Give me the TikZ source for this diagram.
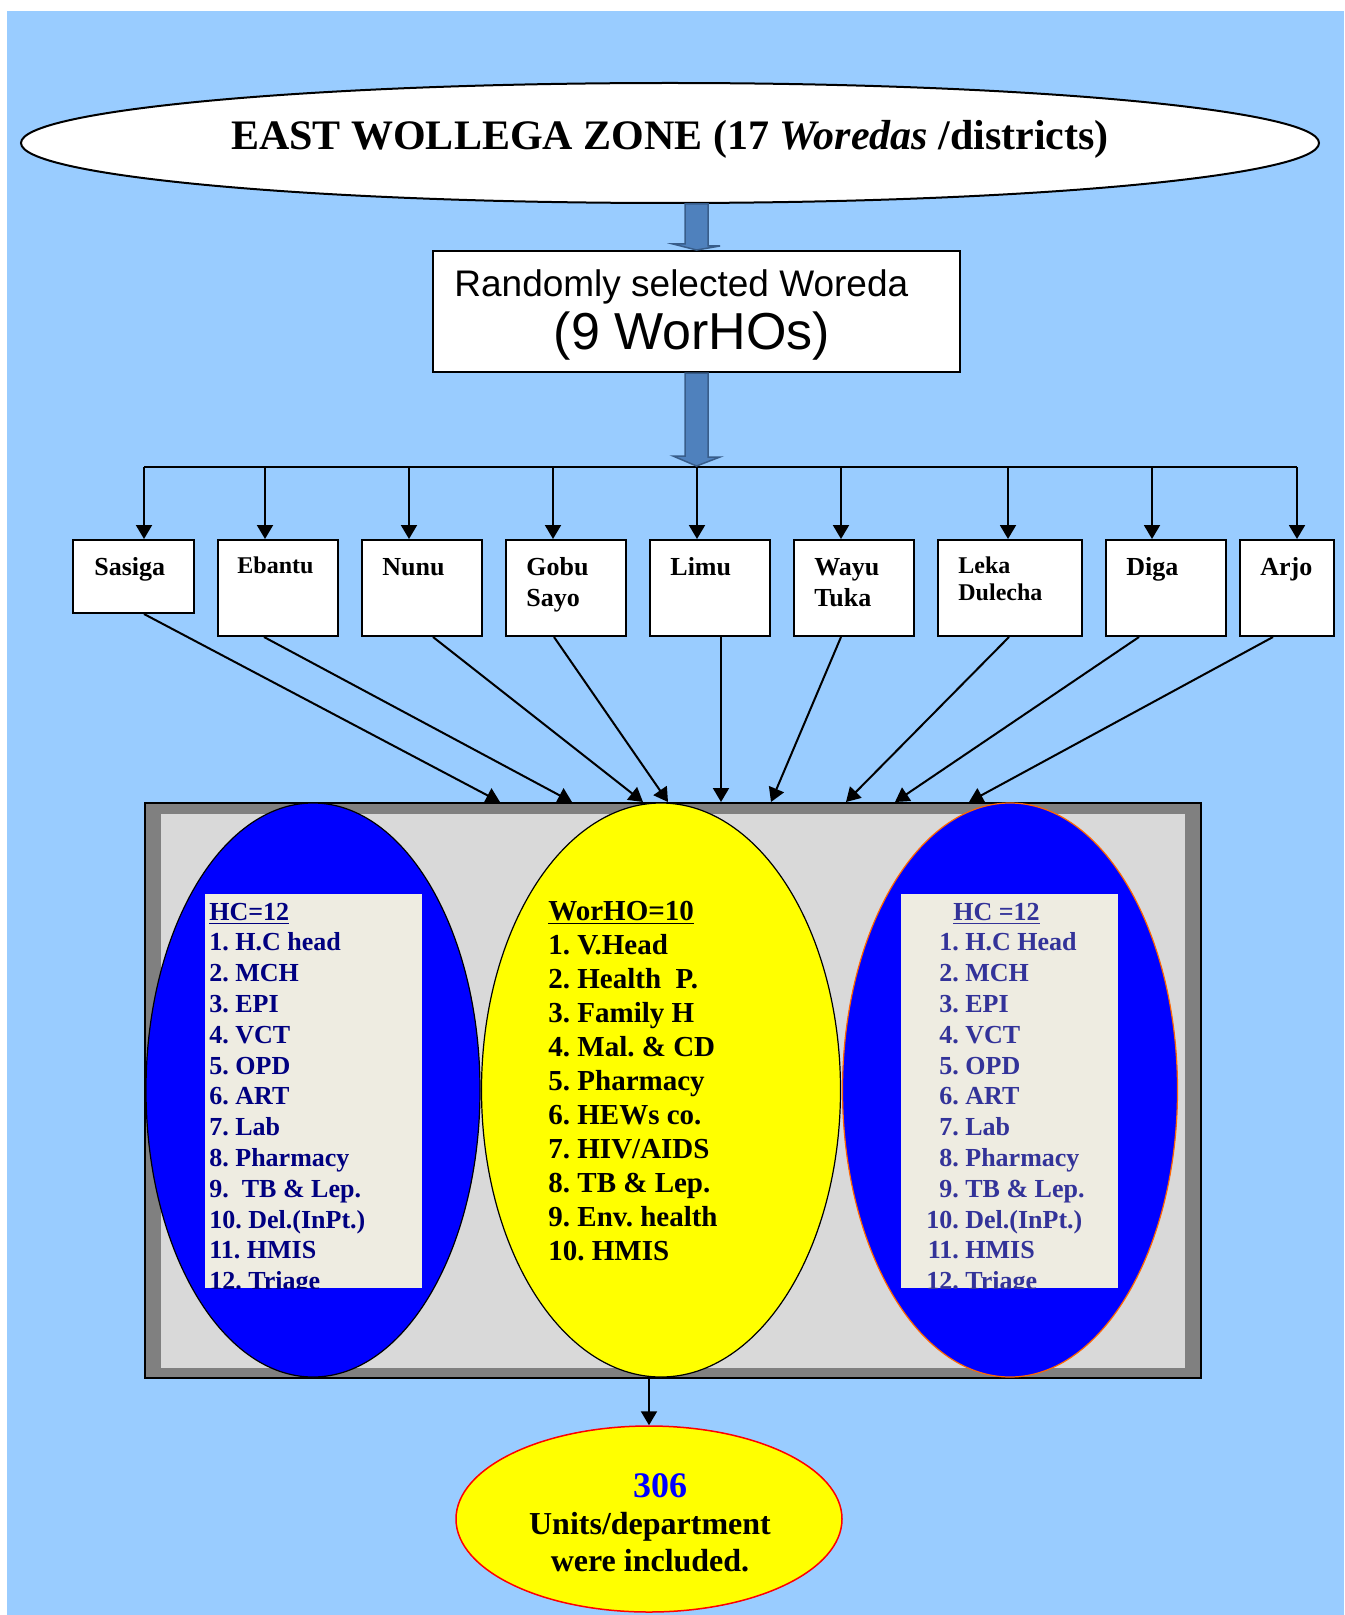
\documentclass[tikz,border=0pt]{standalone}
\usepackage{fontspec}
\setmainfont{Liberation Serif}
\newfontfamily\arialfont{Liberation Sans}
\usetikzlibrary{shapes.geometric,arrows.meta}
\frenchspacing

\definecolor{bgblue}{HTML}{99CCFF}
\definecolor{stemblue}{HTML}{4F81BD}
\definecolor{stemedge}{HTML}{385D8A}
\definecolor{framegray}{HTML}{808080}
\definecolor{innergray}{HTML}{D9D9D9}
\definecolor{panel}{HTML}{EEECE1}
\definecolor{hcnavy}{HTML}{000080}
\definecolor{hcslate}{HTML}{333399}
\definecolor{rimorange}{HTML}{FF6600}
\definecolor{unityellow}{RGB}{255,255,0}
\definecolor{unitblue}{RGB}{0,0,255}
\definecolor{rimred}{RGB}{255,0,0}

\tikzset{wbox/.style={draw,fill=white,line width=1pt,anchor=north west,minimum height=48pt,inner sep=0pt},
  wname/.style={anchor=base west,inner sep=0pt,font=\fontsize{13}{15.5}\selectfont\bfseries},
  arr/.style={line width=1pt,-{Triangle[length=7pt,width=8pt]}},
  stem/.style={fill=stemblue,draw=stemedge,line width=0.75pt},
  unit/.style={ellipse,draw,line width=0.6pt,minimum height=287pt,inner sep=0pt},
  list/.style={anchor=base west,inner sep=0pt,font=\fontsize{13}{15.4}\selectfont\bfseries}}

\begin{document}
\begin{tikzpicture}[x=0.5pt,y=-0.5pt]
        \useasboundingbox (0,0) rectangle (1344,1615);
        \fill[white] (0,0) rectangle (1344,1615);
        \fill[bgblue] (7,11) rectangle (1344,1615);

        % zone and sampled woredas
        \node[ellipse,draw,fill=white,line width=1pt,minimum width=649pt,minimum height=60pt,inner sep=0pt,text height=0.8em,text depth=0.1em,font=\fontsize{21}{25}\selectfont\bfseries] (zone) at (670,143) {EAST WOLLEGA ZONE (17 \textit{Woredas} /districts)};
        \node[draw,fill=white,line width=1pt,minimum width=263.5pt,minimum height=60.5pt,inner sep=0pt] (randbox) at (696.5,311.5) {};
        \node[anchor=base west,inner sep=0pt,font=\arialfont\fontsize{18.5}{22}\selectfont] (randtxt) at (454,297) {Randomly selected Woreda};
        \node[anchor=base,inner sep=0pt,font=\arialfont\fontsize{26}{30}\selectfont] (worhotxt) at (692,350) {(9 WorHOs)};
        \filldraw[stem] (randbox.north |- zone.south) ++(-11.5,0) -- ++(23,0) -- ++(0,42) -- ++(12,0) -- (randbox.north) -- ++(-23.5,-6) -- ++(12,0) -- cycle;

        % bus to the nine woredas
        \coordinate (hub) at (696.5,466);
        \coordinate (d1) at (144,467);
        \coordinate (d2) at (265,467);
        \coordinate (d3) at (409,467);
        \coordinate (d4) at (553,467);
        \coordinate (d5) at (697,467);
        \coordinate (d6) at (841,467);
        \coordinate (d7) at (1008,467);
        \coordinate (d8) at (1152,467);
        \coordinate (d9) at (1297,467);
        \draw[line width=1pt] (d1) -- (d9);
        \filldraw[stem] (randbox.south) ++(-11.5,0) -- ++(23,0) -- ++(0,84) -- ++(12,0) -- (hub) -- ++(-23.5,-10) -- ++(12,0) -- cycle;

        \node[wbox,minimum width=60.5pt,minimum height=36.5pt] (sasiga) at (72,539) {};
        \node[wbox,minimum width=60pt] (ebantu) at (217,539) {};
        \node[wbox,minimum width=60pt] (nunu) at (361,539) {};
        \node[wbox,minimum width=60pt] (gobu) at (505,539) {};
        \node[wbox,minimum width=60pt] (limu) at (649,539) {};
        \node[wbox,minimum width=60pt] (wayu) at (793,539) {};
        \node[wbox,minimum width=72pt] (leka) at (937,539) {};
        \node[wbox,minimum width=60pt] (diga) at (1105,539) {};
        \node[wbox,minimum width=47pt] (arjo) at (1239,539) {};

        \node[wname] (sasigat) at (94,575) {Sasiga};
        \node[wname,font=\fontsize{12}{14}\selectfont\bfseries] (ebantut) at (237,573) {Ebantu};
        \node[wname] (nunut) at (382,575) {Nunu};
        \node[wname] (gobut) at (526,575) {\begin{tabular}[t]{@{}l@{}}Gobu\\Sayo\end{tabular}};
        \node[wname] (limut) at (670,575) {Limu};
        \node[wname] (wayut) at (814,575) {\begin{tabular}[t]{@{}l@{}}Wayu\\Tuka\end{tabular}};
        \node[wname,font=\fontsize{12}{13.5}\selectfont\bfseries] (lekat) at (958,573) {\begin{tabular}[t]{@{}l@{}}Leka\\Dulecha\end{tabular}};
        \node[wname] (digat) at (1126,575) {Diga};
        \node[wname] (arjot) at (1260,575) {Arjo};

        \draw[arr] (d1) -- (d1 |- sasiga.north);
        \draw[arr] (d2) -- (d2 |- ebantu.north);
        \draw[arr] (d3) -- (d3 |- nunu.north);
        \draw[arr] (d4) -- (d4 |- gobu.north);
        \draw[arr] (d5) -- (d5 |- limu.north);
        \draw[arr] (d6) -- (d6 |- wayu.north);
        \draw[arr] (d7) -- (d7 |- leka.north);
        \draw[arr] (d8) -- (d8 |- diga.north);
        \draw[arr] (d9) -- (d9 |- arjo.north);

        % units frame
        \node[draw,fill=framegray,line width=1pt,minimum width=528pt,minimum height=287.5pt,inner sep=0pt] (frame) at (673,1090.5) {};
        \fill[innergray] (161,814) rectangle (1185,1368);

        \draw[arr] (144,0 |- sasiga.south) -- (500,0 |- frame.north);
        \draw[arr] (264,0 |- ebantu.south) -- (572,0 |- frame.north);
        \draw[arr] (433,0 |- nunu.south) -- (643,0 |- frame.north);
        \draw[arr] (554,0 |- gobu.south) -- (668,0 |- frame.north);
        \draw[arr] (721,0 |- limu.south) -- (721,0 |- frame.north);
        \draw[arr] (841,0 |- wayu.south) -- (771,0 |- frame.north);
        \draw[arr] (1009,0 |- leka.south) -- (846,0 |- frame.north);
        \draw[arr] (1139,0 |- diga.south) -- (895,0 |- frame.north);
        \draw[arr] (1273,0 |- arjo.south) -- (969,0 |- frame.north);

        \node[unit,fill=unitblue,minimum width=167pt] (hcA) at (313,1090) {};
        \node[unit,fill=unityellow,minimum width=179.5pt] (worho) at (661,1090) {};
        \node[unit,fill=unitblue,draw=rimorange,minimum width=167.5pt] (hcB) at (1010,1090) {};

        \fill[panel] (205,894) rectangle (422,1288);
        \fill[panel] (901,894) rectangle (1118,1288);
        \begin{scope}
            \clip (205,894) rectangle (422,1288);
            \node[list,text=hcnavy] (hcAlist) at (209,920) {\begin{tabular}[t]{@{}l@{}}
                \underline{HC=12}\\1. H.C head\\2. MCH\\3. EPI\\4. VCT\\5. OPD\\6. ART\\7. Lab\\8. Pharmacy\\9.\ \ TB \& Lep.\\10. Del.(InPt.)\\11. HMIS\\12. Triage\end{tabular}};
        \end{scope}
        \begin{scope}
            \clip (901,894) rectangle (1118,1288);
            \node[list,text=hcslate] (hcBlist) at (926,920) {\begin{tabular}[t]{@{}r@{\ }l@{}}
                \multicolumn{2}{@{}l@{}}{\hspace*{13.5pt}\underline{HC =12}}\\
                1.&H.C Head\\2.&MCH\\3.&EPI\\4.&VCT\\5.&OPD\\6.&ART\\7.&Lab\\8.&Pharmacy\\9.&TB \& Lep.\\10.&Del.(InPt.)\\11.&HMIS\\12.&Triage\end{tabular}};
        \end{scope}
        \node[list,font=\fontsize{14.5}{17}\selectfont\bfseries] (worholist) at (548,920) {\begin{tabular}[t]{@{}l@{}}
            \underline{WorHO=10}\\1. V.Head\\2. Health\ \ P.\\3. Family H\\4. Mal. \& CD\\5. Pharmacy\\6. HEWs co.\\7. HIV/AIDS\\8. TB \& Lep.\\9. Env. health\\10. HMIS\end{tabular}};

        % result
        \node[ellipse,draw=rimred,fill=unityellow,line width=0.75pt,minimum width=193pt,minimum height=93pt,inner sep=0pt] (total) at (649,1519) {};
        \draw[arr] (total.north |- worho.south) -- (total.north);
        \node[anchor=base,inner sep=0pt,font=\fontsize{16}{18.5}\selectfont\bfseries] (totaltxt) at (650,1497) {\begin{tabular}[t]{@{}c@{}}
            \hspace*{10pt}{\color{unitblue}\fontsize{18}{18.5}\selectfont 306}\\Units/department\\were included.\end{tabular}};
\end{tikzpicture}
\end{document}
